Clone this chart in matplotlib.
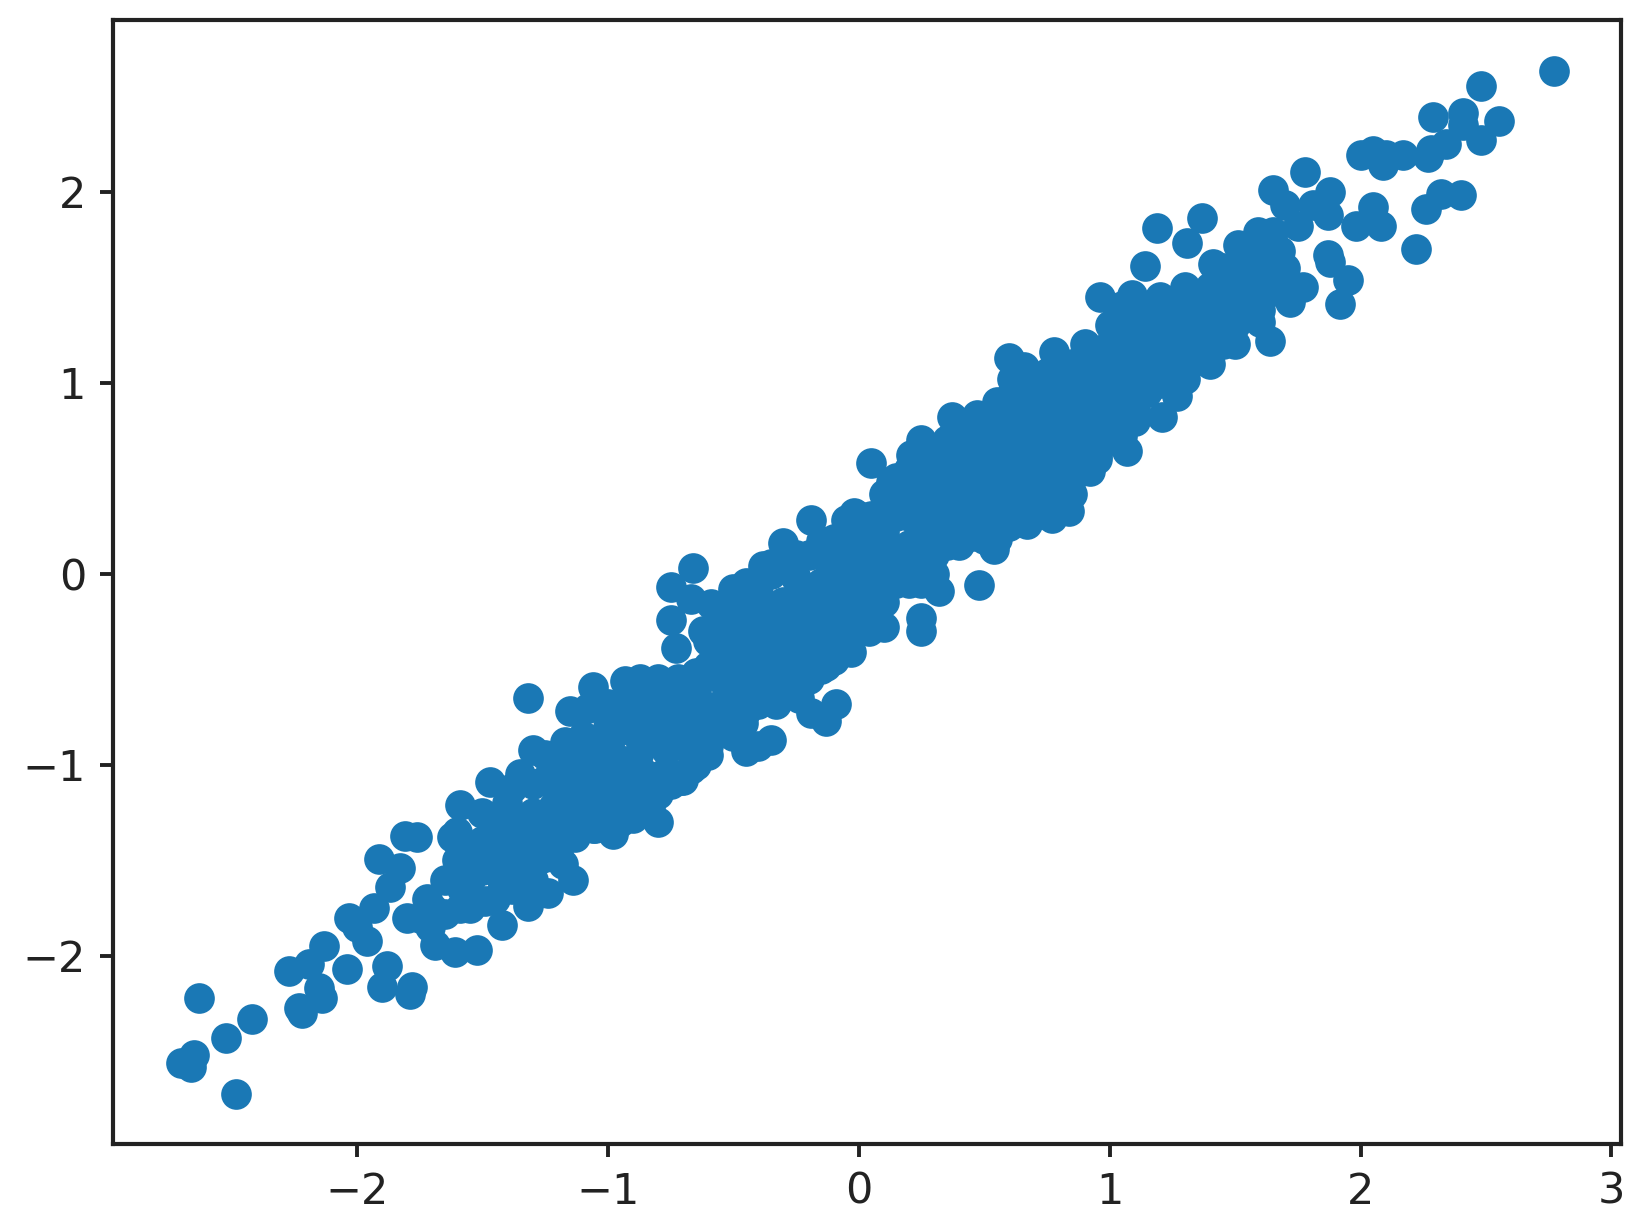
import numpy as np
import matplotlib
matplotlib.use("Agg")
import matplotlib.pyplot as plt

# lower tail, outlying points
x_tail_low = [-2.63, -2.42, -2.52, -2.65, -2.70, -2.66, -2.48, -2.22, -2.23, -2.14, -2.15, -2.27,
              -2.19, -2.13, -2.04, -1.88, -1.90, -1.78, -1.79, -1.96, -2.03, -1.93, -2.00, -1.87,
              -1.91, -1.83, -1.81, -1.76, -1.80, -1.72, -1.69, -1.71, -1.61, -1.52, -1.32, -1.59,
              -1.47, -1.49, -1.42, -1.24, -1.14, -1.18, -1.32]
y_tail_low = [-2.22, -2.33, -2.43, -2.52, -2.56, -2.58, -2.72, -2.30, -2.27, -2.22, -2.17, -2.08,
              -2.04, -1.95, -2.07, -2.05, -2.16, -2.16, -2.20, -1.92, -1.80, -1.75, -1.85, -1.64,
              -1.49, -1.54, -1.37, -1.38, -1.80, -1.70, -1.94, -1.85, -1.98, -1.97, -1.74, -1.75,
              -1.09, -1.71, -1.84, -1.67, -1.60, -1.52, -0.65]

# lower part of the band
x_band_low = [-1.60, -1.59, -1.55, -1.50, -1.50, -1.45, -1.42, -1.40, -1.38, -1.35, -1.35, -1.32,
              -1.30, -1.30, -1.28, -1.25, -1.25, -1.22, -1.20, -1.20, -1.18, -1.15, -1.15, -1.12,
              -1.10, -1.10, -1.08, -1.06, -1.05, -1.02, -1.00, -1.00, -0.98, -0.95, -0.95, -0.93,
              -0.90, -0.90, -0.88, -0.87, -0.85, -0.83, -0.80, -0.80, -0.80, -0.78, -0.75, -0.72,
              -0.70, -0.70, -0.67, -0.62, -1.06, -0.98, -0.90]
y_band_low = [-1.35, -1.21, -1.45, -1.25, -1.55, -1.35, -1.60, -1.20, -1.45, -1.05, -1.35, -1.55,
              -0.92, -1.25, -1.50, -1.08, -1.40, -1.22, -0.95, -1.32, -1.10, -0.72, -1.25, -0.95,
              -0.85, -1.15, -1.28, -0.59, -1.02, -1.20, -0.80, -1.10, -0.95, -0.70, -1.20, -0.56,
              -0.62, -1.05, -0.85, -0.55, -0.70, -1.22, -0.55, -0.85, -1.30, -1.05, -0.72, -0.55,
              -0.80, -1.08, -1.02, -0.95, -1.33, -1.36, -1.28]

# extra points inside the lower band
x_fill_low = [-1.55, -1.50, -1.45, -1.40, -1.38, -1.33, -1.30, -1.27, -1.25, -1.22, -1.20, -1.17,
              -1.15, -1.13, -1.10, -1.08, -1.05, -1.03, -1.00, -1.00, -0.97, -0.95, -0.92, -0.90,
              -0.88, -0.85, -0.85, -0.82, -0.80, -0.78, -0.77, -0.75, -0.72, -0.70, -0.68, -0.65,
              -0.63, -0.60, -0.58, -0.55, -0.55, -0.50, -0.50, -0.47, -0.45, -0.42, -0.40, -0.38,
              -0.35, -1.65, -1.60, -1.65, -1.70, -1.55, -1.58, -1.62, -1.75, -1.52, -1.45, -1.38,
              -1.30, -1.35, -1.25, -1.20]
y_fill_low = [-1.60, -1.40, -1.50, -1.30, -1.12, -1.42, -1.10, -1.32, -0.95, -1.38, -1.15, -0.88,
              -1.05, -1.38, -0.98, -0.70, -1.20, -0.88, -0.68, -1.28, -1.05, -0.82, -1.12, -0.72,
              -0.95, -1.05, -0.62, -0.78, -1.15, -0.68, -0.92, -1.10, -0.65, -0.90, -0.72, -0.52,
              -0.75, -0.48, -0.82, -0.42, -0.68, -0.35, -0.55, -0.72, -0.25, -0.45, -0.60, -0.20,
              -0.50, -1.60, -1.50, -1.78, -1.75, -1.75, -1.65, -1.38, -1.80, -1.50, -1.70, -1.65,
              -1.60, -1.52, -1.48, -1.45]

# dense middle of the band
x_band_mid = [-0.75, -0.75, -0.73, -0.67, -0.66, -0.59,
              -0.65, -0.65, -0.60, -0.60, -0.60, -0.55, -0.55, -0.55,
              -0.50, -0.50, -0.50, -0.50, -0.45, -0.45, -0.45, -0.45,
              -0.40, -0.40, -0.40, -0.40, -0.35, -0.35, -0.35, -0.35,
              -0.30, -0.30, -0.30, -0.30, -0.30, -0.25, -0.25, -0.25, -0.25,
              -0.20, -0.20, -0.20, -0.20, -0.15, -0.15, -0.15, -0.15, -0.15,
              -0.10, -0.10, -0.10, -0.10, -0.10, -0.05, -0.05, -0.05, -0.05,
              0.00, 0.00, 0.00, 0.00, 0.05, 0.05, 0.05, 0.05, 0.05,
              0.10, 0.10, 0.10, 0.10, 0.15, 0.15, 0.15, 0.15,
              0.20, 0.20, 0.20, 0.20, 0.25, 0.25, 0.25, 0.25, 0.25,
              0.30, 0.30, 0.30, 0.30, 0.35, 0.35, 0.35, 0.35,
              0.40, 0.40, 0.40, 0.40, 0.45, 0.45, 0.45, 0.45,
              0.50, 0.50, 0.50, 0.50, 0.55, 0.55, 0.55, 0.55, 0.55]
y_band_mid = [-0.07, -0.24, -0.39, -0.13, 0.03, -0.16,
              -0.62, -0.85, -0.35, -0.70, -0.90, -0.30, -0.55, -0.80,
              -0.25, -0.45, -0.65, -0.80, -0.12, -0.35, -0.55, -0.72,
              -0.10, -0.30, -0.50, -0.68, 0.00, -0.20, -0.40, -0.60,
              0.04, -0.15, -0.30, -0.50, -0.62, -0.02, -0.20, -0.38, -0.55,
              0.10, -0.10, -0.28, -0.45, 0.10, -0.05, -0.20, -0.40, -0.50,
              0.18, 0.00, -0.15, -0.30, -0.42, 0.20, 0.05, -0.10, -0.25,
              0.25, 0.08, -0.05, -0.20, 0.30, 0.15, 0.00, -0.15, -0.25,
              0.42, 0.22, 0.05, -0.10, 0.50, 0.30, 0.12, -0.05,
              0.48, 0.30, 0.15, 0.00, 0.58, 0.40, 0.22, 0.05, -0.05,
              0.60, 0.45, 0.25, 0.10, 0.70, 0.50, 0.32, 0.15,
              0.72, 0.55, 0.38, 0.20, 0.70, 0.50, 0.32, 0.20,
              0.80, 0.62, 0.42, 0.28, 0.90, 0.72, 0.50, 0.30, 0.18]

# upper part of the band
x_band_high = [0.60, 0.60, 0.60, 0.60, 0.65, 0.65, 0.65, 0.65,
               0.70, 0.70, 0.70, 0.70, 0.70, 0.75, 0.75, 0.75, 0.75, 0.75,
               0.80, 0.80, 0.80, 0.80, 0.85, 0.85, 0.85, 0.85,
               0.90, 0.90, 0.90, 0.90, 0.95, 0.95, 0.95, 0.95,
               1.00, 1.00, 1.00, 1.00, 1.05, 1.05, 1.05, 1.05,
               1.10, 1.10, 1.10, 1.10, 1.15, 1.15, 1.15, 1.20, 1.20, 1.20,
               1.25, 1.25, 1.25, 1.30, 1.30, 1.30, 1.35, 1.35, 1.35,
               1.40, 1.40, 1.40, 1.45, 1.45, 1.45, 1.50, 1.50, 1.50,
               1.55, 1.55, 1.55, 1.60, 1.60, 1.60, 1.65, 1.65, 1.70, 1.70]
y_band_high = [0.92, 0.70, 0.52, 0.35, 0.95, 0.75, 0.55, 0.35,
               0.98, 0.82, 0.60, 0.42, 0.32, 1.05, 0.85, 0.65, 0.45, 0.35,
               1.00, 0.80, 0.60, 0.42, 1.10, 0.90, 0.70, 0.50,
               1.12, 0.95, 0.75, 0.58, 1.15, 1.00, 0.80, 0.62,
               1.20, 1.00, 0.85, 0.70, 1.30, 1.10, 0.90, 0.72,
               1.35, 1.15, 0.95, 0.80, 1.30, 1.10, 0.95, 1.45, 1.25, 1.05,
               1.35, 1.15, 1.00, 1.50, 1.30, 1.10, 1.45, 1.25, 1.12,
               1.50, 1.30, 1.15, 1.55, 1.40, 1.20, 1.60, 1.45, 1.30,
               1.70, 1.50, 1.35, 1.65, 1.50, 1.38, 1.70, 1.55, 1.60, 1.50]

# extra points inside the upper band
x_fill_high = [0.30, 0.35, 0.40, 0.40, 0.45, 0.45, 0.50, 0.50, 0.55, 0.55, 0.60, 0.60, 0.60,
               0.65, 0.65, 0.65, 0.70, 0.70, 0.70, 0.75, 0.75, 0.75, 0.80, 0.80, 0.80,
               0.85, 0.85, 0.85, 0.90, 0.90, 0.90, 0.95, 0.95, 0.95, 1.00, 1.00, 1.00,
               1.05, 1.05, 1.05, 1.10, 1.10, 1.10, 1.15, 1.15, 1.20, 1.20, 1.25, 1.25,
               1.30, 1.30, 1.35, 1.35, 1.40, 1.40, 1.45, 1.45, 1.50, 1.50, 1.55, 1.55,
               1.60, 1.60, 1.65, 1.65, 1.70]
y_fill_high = [0.35, 0.25, 0.45, 0.30, 0.60, 0.40, 0.50, 0.35, 0.60, 0.40, 0.80, 0.60, 0.43,
               0.85, 0.65, 0.45, 0.90, 0.70, 0.50, 0.95, 0.75, 0.55, 0.90, 0.70, 0.50,
               1.00, 0.80, 0.60, 1.05, 0.85, 0.65, 1.08, 0.90, 0.70, 1.10, 0.92, 0.78,
               1.20, 1.00, 0.82, 1.25, 1.05, 0.88, 1.20, 1.02, 1.35, 1.15, 1.25, 1.08,
               1.40, 1.20, 1.35, 1.18, 1.40, 1.22, 1.48, 1.30, 1.52, 1.38, 1.60, 1.42,
               1.58, 1.45, 1.62, 1.48, 1.55]

# points widening the band on both of its sides
x_fill_edge = [0.15, 0.20, 0.30, 0.40, 0.50, 0.55, -0.05, 0.00, -0.15, -0.25, -0.35, -0.45, -0.55, -0.62,
               1.10, 1.00, 1.05, 0.90, 1.20, 1.30, 1.45, 1.60, 1.20, 1.40, 1.30, 1.50, 1.60,
               0.10, 0.20, 0.30, 0.40, 0.50, 0.60, 0.70, 0.85, 0.95, -0.50, -0.60, -0.65, -0.20,
               -0.10, 0.00, -0.75, -0.85, -0.95, -1.10, -1.05]
y_fill_edge = [0.42, 0.55, 0.50, 0.65, 0.72, 0.78, 0.28, 0.30, 0.17, 0.10, 0.05, -0.05, -0.20, -0.30,
               1.40, 1.30, 1.40, 1.20, 1.40, 1.45, 1.60, 1.72, 1.00, 1.10, 1.02, 1.20, 1.32,
               -0.15, -0.05, 0.00, 0.15, 0.18, 0.25, 0.30, 0.42, 0.60, -0.85, -0.95, -1.00, -0.55,
               -0.45, -0.28, -1.05, -1.18, -1.30, -1.30, -1.33]

# outliers around the middle and upper part
x_edge = [0.60, 0.66, 0.78, 0.61, 0.95, 0.37, 0.47, 0.25, 0.05, 0.21, 0.13, -0.02, -0.19, -0.30,
          -0.38, -0.50, 1.21, 1.27, 1.07, 0.92, 0.84, 0.77, 0.67, 0.54, 0.48, -0.09, -0.13, -0.19,
          -0.24, -0.33, -0.35, -0.40, -0.45, -0.46, -0.62, -0.71, 0.25, 0.10, 0.25, 0.32, 0.04,
          -0.03, -0.13, -0.23]
y_edge = [1.13, 1.08, 1.16, 1.02, 1.16, 0.82, 0.83, 0.70, 0.58, 0.62, 0.48, 0.32, 0.28, 0.16,
          0.04, -0.08, 0.82, 0.93, 0.64, 0.54, 0.33, 0.29, 0.26, 0.13, -0.06, -0.68, -0.77, -0.73,
          -0.65, -0.68, -0.87, -0.90, -0.93, -0.78, -0.95, -1.08, -0.30, -0.28, -0.23, -0.09, -0.30,
          -0.41, -0.48, -0.48]

# upper tail, outlying points
x_tail_high = [2.77, 2.48, 2.29, 2.41, 2.41, 2.55, 2.48, 2.34, 2.27, 2.28, 2.17, 2.09, 2.10, 2.05,
               2.00, 2.32, 2.40, 2.26, 2.22, 2.05, 1.98, 2.08, 1.78, 1.65, 1.70, 1.88, 1.87, 1.81,
               1.75, 1.19, 1.37, 1.31, 1.14, 0.96, 1.09, 1.41, 1.43, 1.51, 1.59, 1.65, 1.68, 1.87,
               1.88, 1.95, 1.92, 1.64, 1.77, 1.72]
y_tail_high = [2.63, 2.55, 2.39, 2.41, 2.35, 2.37, 2.27, 2.25, 2.18, 2.22, 2.19, 2.14, 2.19, 2.21,
               2.19, 1.99, 1.98, 1.91, 1.70, 1.92, 1.82, 1.82, 2.10, 2.01, 1.93, 2.00, 1.88, 1.93,
               1.82, 1.81, 1.86, 1.73, 1.61, 1.45, 1.46, 1.62, 1.59, 1.72, 1.79, 1.79, 1.69, 1.67,
               1.63, 1.54, 1.41, 1.22, 1.50, 1.42]

x_ticks = [-2, -1, 0, 1, 2, 3]
y_ticks = [-2, -1, 0, 1, 2]

x_all = np.concatenate([x_tail_low, x_band_low, x_fill_low, x_band_mid, x_band_high, x_fill_high, x_fill_edge, x_edge, x_tail_high])
y_all = np.concatenate([y_tail_low, y_band_low, y_fill_low, y_band_mid, y_band_high, y_fill_high, y_fill_edge, y_edge, y_tail_high])

W, H = 1642, 1228
fig = plt.figure(figsize=(W / 200, H / 200), dpi=200)
ax = fig.add_axes([113 / W, 1 - 1144 / H, (1621 - 113) / W, (1144 - 20) / H])

ax.scatter(x_all, y_all, s=122, color='#1a78b5', linewidths=0)

ax.set_xlim(-2.972, 3.038)
ax.set_ylim(-2.984, 2.898)
ax.set_xticks(x_ticks)
ax.set_yticks(y_ticks)
ax.tick_params(length=4.7, width=1.4, labelsize=15.5, pad=5, color='#222222', labelcolor='#222222')
for spine in ax.spines.values():
    spine.set_linewidth(1.5)
    spine.set_color('#222222')

fig.savefig("out.png", dpi=200)
